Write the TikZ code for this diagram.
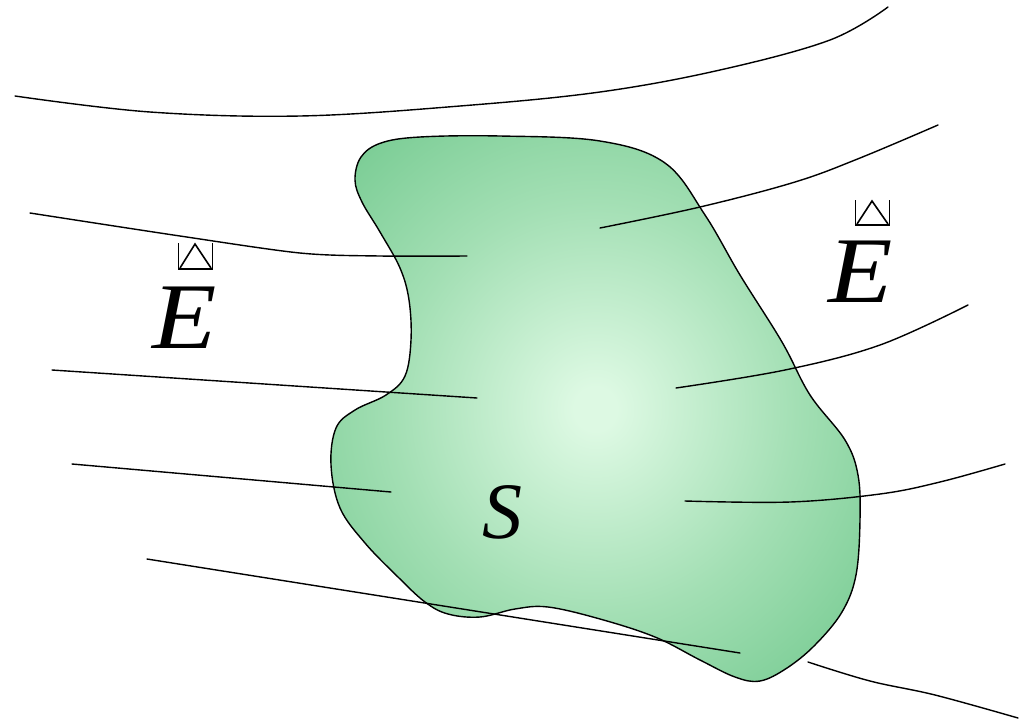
\documentclass[tikz,border=0pt]{standalone}
\usepackage{fontspec}
\setmainfont{Liberation Serif}
\definecolor{blobin}{HTML}{DDF9E3}
\definecolor{blobmid}{HTML}{A3DFB4}
\definecolor{blobout}{HTML}{77CB92}
\pgfdeclareradialshading{blobshade}{\pgfpoint{0bp}{0bp}}{%
  color(0bp)=(blobin); color(2bp)=(blobin); color(19bp)=(blobmid); color(34bp)=(blobout); color(70bp)=(blobout)}
\begin{document}
\begin{tikzpicture}[x=1pt,y=-1pt,
  fieldline/.style={line width=1.4pt,line cap=round},
  biglabel/.style={font=\fontsize{94}{94}\selectfont\itshape,inner sep=0pt},
  glyphbox/.style={line width=1.6pt}]
\useasboundingbox (0,0) rectangle (1028,721);
% blob
\path[draw=black,line width=1.4pt,shading=blobshade]
  plot[smooth cycle,tension=0.6] coordinates{
  (420,137) (500,136) (600,141) (665,163) (705,215) (740,275) (782,342) (810,395)
  (845,440) (858,475) (860,520) (856,575) (842,612) (815,645) (787,668) (760,681)
  (735,677) (700,660) (655,637) (600,619) (548,607) (515,609) (480,617) (448,614)
  (425,602) (398,577) (365,543) (340,508) (331,465) (336,428) (355,410) (386,395)
  (405,376) (411,340) (409,300) (400,268) (380,232) (362,202) (355,180) (361,157) (381,143)};
% field lines
\draw[fieldline] plot[smooth,tension=0.6] coordinates{(15,96) (150,112) (300,116) (460,106) (600,92) (720,70) (830,40) (888,7)};
\draw[fieldline] plot[smooth,tension=0.5] coordinates{(30,213) (180,236) (300,253) (380,256) (467,256)};
\draw[fieldline] (52,370) -- (477,398);
\draw[fieldline] (72,464) -- (391,492);
\draw[fieldline] (147,559) -- (740,653);
\draw[fieldline] plot[smooth,tension=0.6] coordinates{(600,228) (700,207) (795,182) (860,158) (938,125)};
\draw[fieldline] plot[smooth,tension=0.6] coordinates{(676,388) (785,370) (880,345) (968,305)};
\draw[fieldline] plot[smooth,tension=0.6] coordinates{(685,501) (790,502) (880,494) (940,482) (1005,464)};
\draw[fieldline] plot[smooth,tension=0.6] coordinates{(808,662) (870,681) (935,695) (1018,718)};
% labels
\node[biglabel] (eleft) at (185,318) {\scalebox{1.12}[1]{E}};
\node[biglabel] (eright) at (861,272) {\scalebox{1.12}[1]{E}};
\node[font=\fontsize{80}{80}\selectfont\itshape,inner sep=0pt] (s) at (502,512) {S};
% glyphs above E
\draw[glyphbox] (178.5,243) -- (178.5,269) -- (212.5,269) -- (212.5,243);
\draw[glyphbox] (180,268) -- (195,244) -- (211,268);
\draw[glyphbox] (855.5,200) -- (855.5,225) -- (889.5,225) -- (889.5,200);
\draw[glyphbox] (857,224) -- (872,201) -- (888,224);
\end{tikzpicture}
\end{document}
